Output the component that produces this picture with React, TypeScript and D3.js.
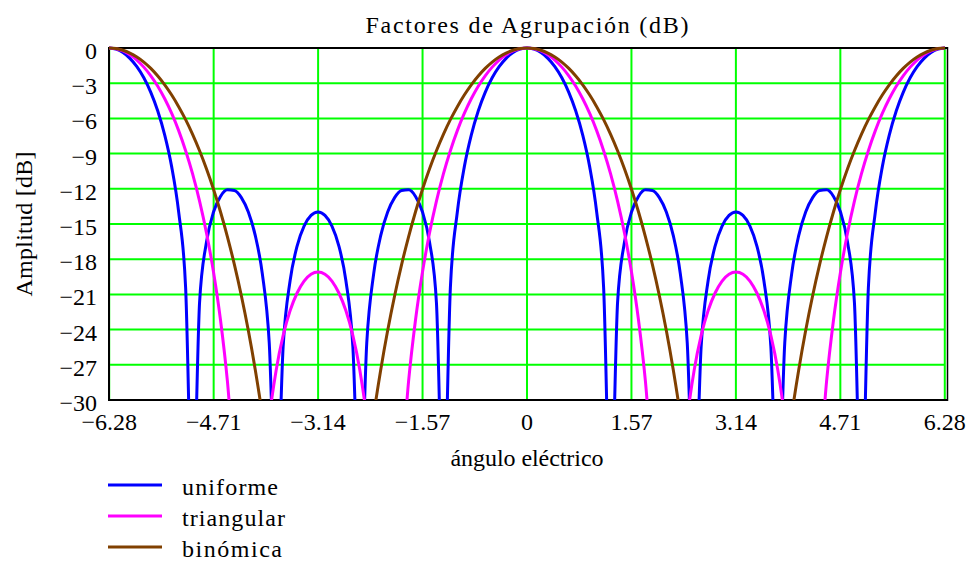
import React from "react";
import * as d3 from "d3";

// electrical angle samples (degrees)
const PSI_DEG = [
  -360, -354, -348, -342, -336, -330, -324, -318, -312, -306,
  -300, -294, -288, -282, -276, -270, -264, -258, -252, -246,
  -240, -234, -228, -222, -216, -210, -204, -198, -192, -186,
  -180, -174, -168, -162, -156, -150, -144, -138, -132, -126,
  -120, -114, -108, -102, -96, -90, -84, -78, -72, -66,
  -60, -54, -48, -42, -36, -30, -24, -18, -12, -6,
  0,
  6, 12, 18, 24, 30, 36, 42, 48, 54, 60,
  66, 72, 78, 84, 90, 96, 102, 108, 114, 120,
  126, 132, 138, 144, 150, 156, 162, 168, 174, 180,
  186, 192, 198, 204, 210, 216, 222, 228, 234, 240,
  246, 252, 258, 264, 270, 276, 282, 288, 294, 300,
  306, 312, 318, 324, 330, 336, 342, 348, 354, 360,
];

// values in dB (values far below -30 are off the plot)
const UNIFORME = [
  0, -0.10, -0.39, -0.88, -1.59, -2.54, -3.78, -5.37, -7.42, -10.13, -13.98, -20.44, -40, -21.70, -16.51, -13.98, -12.65, -12.09, -12.14, -12.75, -13.98, -15.99, -19.21, -25.12, -40, -25.42, -19.81, -16.88, -15.18, -14.27, -13.98,
  -14.27, -15.18, -16.88, -19.81, -25.42, -40, -25.12, -19.21, -15.99, -13.98, -12.75, -12.14, -12.09, -12.65, -13.98, -16.51, -21.70, -40, -20.44, -13.98, -10.13, -7.42, -5.37, -3.78, -2.54, -1.59, -0.88, -0.39, -0.10, 0,
  -0.10, -0.39, -0.88, -1.59, -2.54, -3.78, -5.37, -7.42, -10.13, -13.98, -20.44, -40, -21.70, -16.51, -13.98, -12.65, -12.09, -12.14, -12.75, -13.98, -15.99, -19.21, -25.12, -40, -25.42, -19.81, -16.88, -15.18, -14.27, -13.98,
  -14.27, -15.18, -16.88, -19.81, -25.42, -40, -25.12, -19.21, -15.99, -13.98, -12.75, -12.14, -12.09, -12.65, -13.98, -16.51, -21.70, -40, -20.44, -13.98, -10.13, -7.42, -5.37, -3.78, -2.54, -1.59, -0.88, -0.39, -0.10, 0,
];

const TRIANGULAR = [
  0, -0.07, -0.25, -0.58, -1.03, -1.63, -2.37, -3.26, -4.33, -5.58, -7.04, -8.75, -10.73, -13.05, -15.79, -19.09, -23.16, -28.42, -35.80, -40, -40, -40, -37.91, -31.61, -27.44, -24.50, -22.38, -20.88, -19.86, -19.28, -19.09,
  -19.28, -19.86, -20.88, -22.38, -24.50, -27.44, -31.61, -37.91, -40, -40, -40, -35.80, -28.42, -23.16, -19.09, -15.79, -13.05, -10.73, -8.75, -7.04, -5.58, -4.33, -3.26, -2.37, -1.63, -1.03, -0.58, -0.25, -0.07, 0,
  -0.07, -0.25, -0.58, -1.03, -1.63, -2.37, -3.26, -4.33, -5.58, -7.04, -8.75, -10.73, -13.05, -15.79, -19.09, -23.16, -28.42, -35.80, -40, -40, -40, -37.91, -31.61, -27.44, -24.50, -22.38, -20.88, -19.86, -19.28, -19.09,
  -19.28, -19.86, -20.88, -22.38, -24.50, -27.44, -31.61, -37.91, -40, -40, -40, -35.80, -28.42, -23.16, -19.09, -15.79, -13.05, -10.73, -8.75, -7.04, -5.58, -4.33, -3.26, -2.37, -1.63, -1.03, -0.58, -0.25, -0.07, 0,
];

const BINOMICA = [
  0, -0.05, -0.19, -0.43, -0.77, -1.20, -1.74, -2.39, -3.14, -4.01, -5.00, -6.11, -7.36, -8.76, -10.31, -12.04, -13.96, -16.09, -18.46, -21.11, -24.08, -27.44, -31.25, -35.65, -40, -40, -40, -40, -40, -40, -40,
  -40, -40, -40, -40, -40, -40, -35.65, -31.25, -27.44, -24.08, -21.11, -18.46, -16.09, -13.96, -12.04, -10.31, -8.76, -7.36, -6.11, -5.00, -4.01, -3.14, -2.39, -1.74, -1.20, -0.77, -0.43, -0.19, -0.05, 0,
  -0.05, -0.19, -0.43, -0.77, -1.20, -1.74, -2.39, -3.14, -4.01, -5.00, -6.11, -7.36, -8.76, -10.31, -12.04, -13.96, -16.09, -18.46, -21.11, -24.08, -27.44, -31.25, -35.65, -40, -40, -40, -40, -40, -40, -40,
  -40, -40, -40, -40, -40, -40, -35.65, -31.25, -27.44, -24.08, -21.11, -18.46, -16.09, -13.96, -12.04, -10.31, -8.76, -7.36, -6.11, -5.00, -4.01, -3.14, -2.39, -1.74, -1.20, -0.77, -0.43, -0.19, -0.05, 0,
];

const SERIES_NAMES = ["uniforme", "triangular", "binómica"];
const SERIES_COLORS = ["#0000ff", "#ff00ff", "#804000"];

const X_TICKS = [-6.28, -4.71, -3.14, -1.57, 0, 1.57, 3.14, 4.71, 6.28];
const X_TICK_LABELS = ["−6.28", "−4.71", "−3.14", "−1.57", "0", "1.57", "3.14", "4.71", "6.28"];
const Y_TICKS = [0, -3, -6, -9, -12, -15, -18, -21, -24, -27, -30];
const Y_TICK_LABELS = ["0", "−3", "−6", "−9", "−12", "−15", "−18", "−21", "−24", "−27", "−30"];

const TITLE = "Factores de Agrupación (dB)";
const X_LABEL = "ángulo eléctrico";
const Y_LABEL = "Amplitud [dB]";

const W = 973;
const H = 563;
const FONT = "Liberation Serif";
const FS = 24;

export default function App() {
  const left = 109;
  const right = 945;
  const top = 48;
  const bottom = 400;

  const x = d3.scaleLinear().domain([-2 * Math.PI, 2 * Math.PI]).range([left, right]);
  const y = d3.scaleLinear().domain([-30, 0]).range([bottom, top]);

  const seriesValues = [UNIFORME, TRIANGULAR, BINOMICA];
  const line = d3
    .line<[number, number]>()
    .x((d) => x((d[0] * Math.PI) / 180))
    .y((d) => y(d[1]))
    .curve(d3.curveMonotoneX);

  const paths = seriesValues.map((vals) =>
    line(PSI_DEG.map((p, i) => [p, vals[i]] as [number, number])) || ""
  );

  const legendY = [485, 516, 547];
  const legendTextLen = [96, 103, 100];
  const ts: React.CSSProperties = { fontFamily: FONT, fontSize: FS, fill: "#000" };

  return (
    <svg width={W} height={H} style={{ position: "absolute", left: 0, top: 0, background: "#fff" }}>
      <rect x={0} y={0} width={W} height={H} fill="#fff" />
      <defs>
        <clipPath id="plotClip">
          <rect x={left} y={top - 2} width={right - left + 2} height={bottom - top + 2} />
        </clipPath>
      </defs>

      {/* title */}
      <text x={527} y={33} style={ts} textAnchor="middle" textLength={323} lengthAdjust="spacing">
        {TITLE}
      </text>

      {/* grid */}
      {X_TICKS.map((t, i) => (
        <line key={"gx" + i} x1={x(t)} x2={x(t)} y1={top} y2={bottom} stroke="#00ff00" strokeWidth={2} />
      ))}
      {Y_TICKS.map((t, i) => (
        <line key={"gy" + i} x1={left} x2={right} y1={y(t)} y2={y(t)} stroke="#00ff00" strokeWidth={2} />
      ))}

      {/* frame */}
      <line x1={left} x2={left} y1={top - 1} y2={bottom + 1} stroke="#000" strokeWidth={2} />
      <line x1={left - 1} x2={right + 3} y1={top} y2={top} stroke="#000" strokeWidth={2} />
      <line x1={left - 1} x2={right + 3} y1={bottom} y2={bottom} stroke="#000" strokeWidth={2} />
      <line x1={right + 2.5} x2={right + 2.5} y1={top - 1} y2={bottom + 1} stroke="#000" strokeWidth={1.5} />

      {/* curves */}
      <g clipPath="url(#plotClip)">
        {paths.map((d, i) => (
          <path key={"s" + i} d={d} fill="none" stroke={SERIES_COLORS[i]} strokeWidth={3} strokeLinejoin="round" />
        ))}
      </g>

      {/* y tick labels */}
      {Y_TICKS.map((t, i) => (
        <text key={"yl" + i} x={97} y={y(t) + 11} style={ts} textAnchor="end">
          {Y_TICK_LABELS[i]}
        </text>
      ))}

      {/* x tick labels */}
      {X_TICKS.map((t, i) => (
        <text key={"xl" + i} x={x(t)} y={430} style={ts} textAnchor="middle">
          {X_TICK_LABELS[i]}
        </text>
      ))}

      {/* axis labels */}
      <text x={527} y={466} style={ts} textAnchor="middle" textLength={153} lengthAdjust="spacing">
        {X_LABEL}
      </text>
      <text
        transform="translate(32,224) rotate(-90)"
        style={ts}
        textAnchor="middle"
        textLength={145}
        lengthAdjust="spacing"
      >
        {Y_LABEL}
      </text>

      {/* legend */}
      {SERIES_NAMES.map((name, i) => (
        <g key={"lg" + i}>
          <line x1={108} x2={162} y1={legendY[i]} y2={legendY[i]} stroke={SERIES_COLORS[i]} strokeWidth={3} />
          <text x={182} y={legendY[i] + 10} style={ts} textLength={legendTextLen[i]} lengthAdjust="spacing">
            {name}
          </text>
        </g>
      ))}
    </svg>
  );
}
